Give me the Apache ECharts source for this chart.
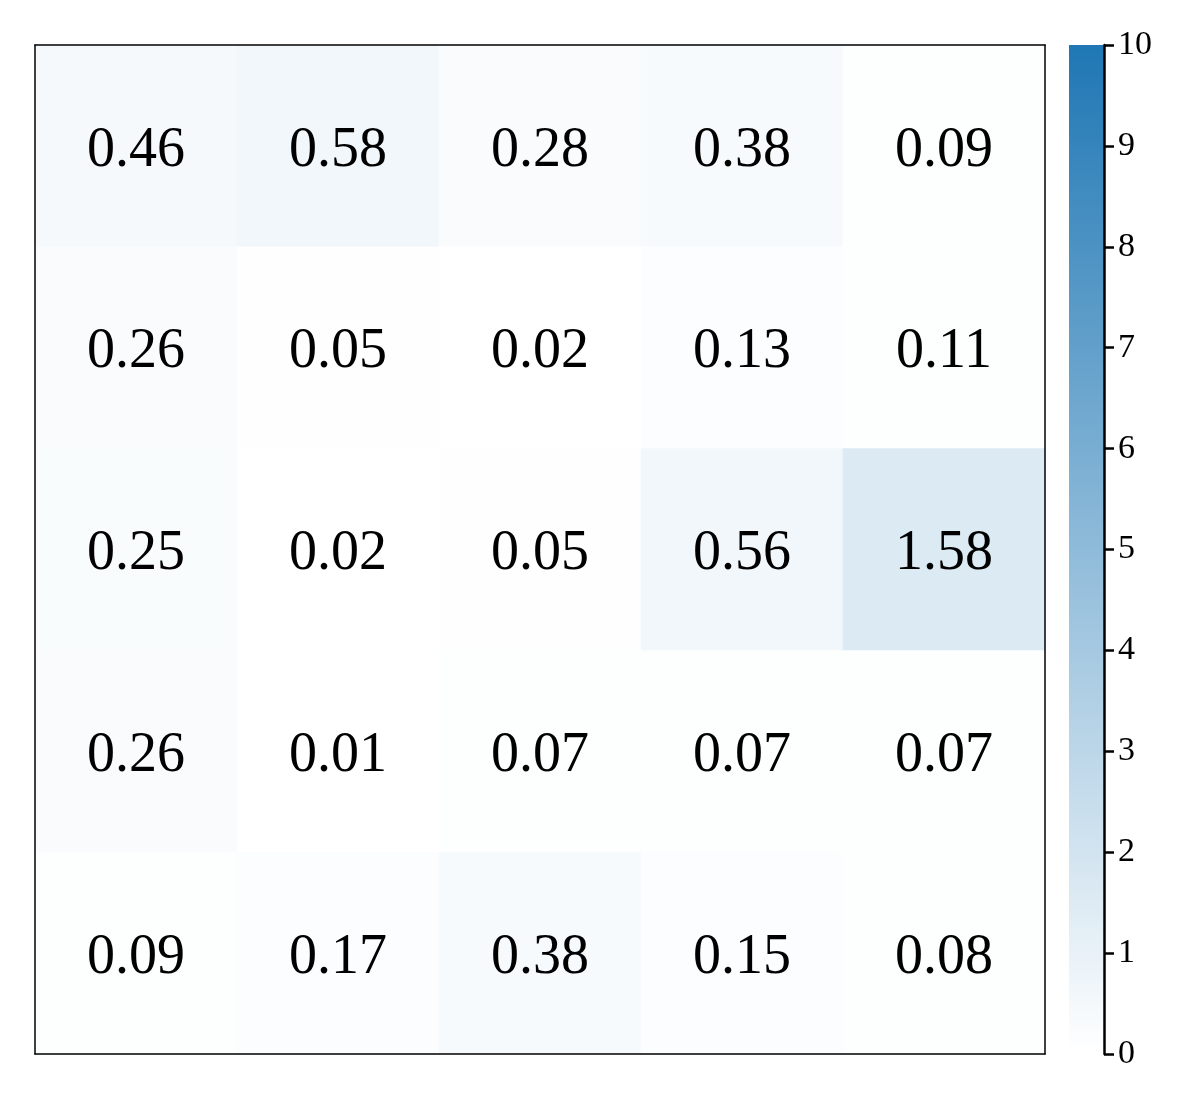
<!DOCTYPE html>
<html><head><meta charset="utf-8">
<script src="https://cdn.jsdelivr.net/npm/echarts@6/dist/echarts.min.js"></script>
<style>html,body{margin:0;padding:0;background:#fff}#c{width:1200px;height:1100px}</style>
</head><body><div id="c"></div>
<script>
const xCats = ['c0','c1','c2','c3','c4'];
const yCats = ['r0','r1','r2','r3','r4'];
const row0 = [0.46, 0.58, 0.28, 0.38, 0.09];
const row1 = [0.26, 0.05, 0.02, 0.13, 0.11];
const row2 = [0.25, 0.02, 0.05, 0.56, 1.58];
const row3 = [0.26, 0.01, 0.07, 0.07, 0.07];
const row4 = [0.09, 0.17, 0.38, 0.15, 0.08];
const rows = [row0, row1, row2, row3, row4];
const colorMin = 0, colorMax = 10;
const colorTicks = [0,1,2,3,4,5,6,7,8,9,10];

const heatData = [];
rows.forEach((r, i) => r.forEach((v, j) => heatData.push([j, i, v])));

const font = '"Liberation Serif", "DejaVu Serif", serif';
const chart = echarts.init(document.getElementById('c'));
const frameLine = {show: true, lineStyle: {color: '#000', width: 1.5}};
chart.setOption({
  animation: false,
  backgroundColor: '#fff',
  grid: [
    {left: 35, top: 45, width: 1010, height: 1009},
    {left: 1069, top: 45, width: 35, height: 1009}
  ],
  xAxis: [
    {type: 'category', data: xCats, gridIndex: 0, position: 'bottom', z: 10,
     axisLine: frameLine, axisTick: {show: false}, axisLabel: {show: false}, splitLine: {show: false}},
    {type: 'category', data: xCats, gridIndex: 0, position: 'top', z: 10,
     axisLine: frameLine, axisTick: {show: false}, axisLabel: {show: false}, splitLine: {show: false}},
    {type: 'category', data: ['cb'], gridIndex: 1, show: false}
  ],
  yAxis: [
    {type: 'category', data: yCats, inverse: true, gridIndex: 0, position: 'left', z: 10,
     axisLine: frameLine, axisTick: {show: false}, axisLabel: {show: false}, splitLine: {show: false}},
    {type: 'category', data: yCats, inverse: true, gridIndex: 0, position: 'right', z: 10,
     axisLine: frameLine, axisTick: {show: false}, axisLabel: {show: false}, splitLine: {show: false}},
    {type: 'value', gridIndex: 1, position: 'right', min: colorMin, max: colorMax, interval: 1, z: 10,
     axisLine: {show: true, lineStyle: {color: '#000', width: 2.5}},
     axisTick: {show: true, inside: false, length: 10, lineStyle: {color: '#000', width: 2.5}},
     axisLabel: {show: true, color: '#000', fontSize: 34, fontFamily: font, margin: 14,
       formatter: v => colorTicks.includes(v) ? String(v) : ''},
     splitLine: {show: false}}
  ],
  visualMap: {
    show: false, type: 'continuous', seriesIndex: 0, min: colorMin, max: colorMax,
    inRange: {color: ['#ffffff', '#1f77b4']}
  },
  series: [
    {type: 'heatmap', xAxisIndex: 0, yAxisIndex: 0, data: heatData,
     label: {show: true, color: '#000', fontSize: 56, fontFamily: font, offset: [0, 5],
       formatter: p => p.value[2].toFixed(2)},
     emphasis: {disabled: true}},
    {type: 'bar', xAxisIndex: 2, yAxisIndex: 2, data: [colorMax], barWidth: '100%',
     itemStyle: {color: new echarts.graphic.LinearGradient(0, 0, 0, 1, [
       {offset: 0, color: '#1f77b4'}, {offset: 1, color: '#ffffff'}])},
     emphasis: {disabled: true}}
  ]
});
</script></body></html>
